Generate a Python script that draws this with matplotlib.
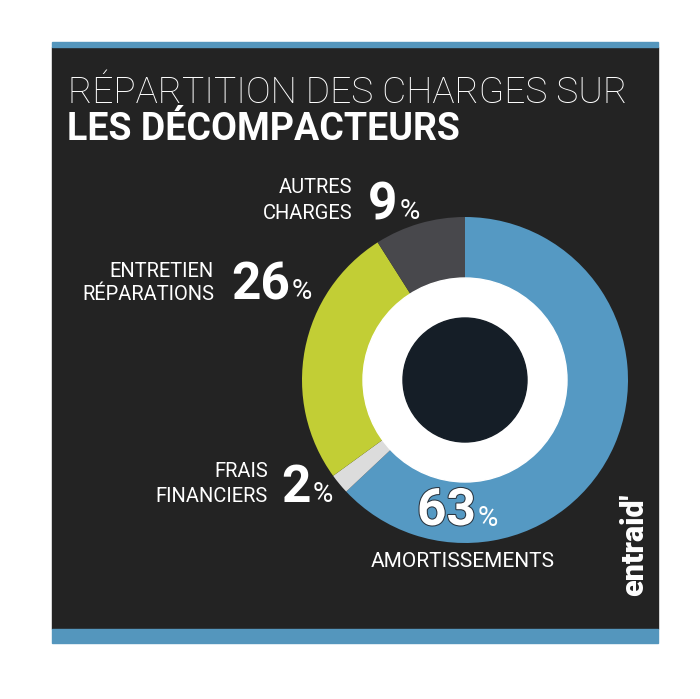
import matplotlib
matplotlib.use("Agg")
import matplotlib.pyplot as plt
from matplotlib.patches import Rectangle, Circle
from matplotlib import patheffects

# data
categories = ["AMORTISSEMENTS", "FRAIS FINANCIERS", "ENTRETIEN RÉPARATIONS", "AUTRES CHARGES"]
shares = [63, 2, 26, 9]
colors = ["#5599c3", "#dcdcdc", "#c2ce35", "#48484c"]
title_1 = "RÉPARTITION DES CHARGES SUR"
title_2 = "LES DÉCOMPACTEURS"

W, H = 700, 699
fig = plt.figure(figsize=(7, 6.99), dpi=100)
fig.patch.set_facecolor("white")
ax = fig.add_axes([0, 0, 1, 1])


def Y(y):
    # image row -> axes y
    return H - y


# panel + blue stripes
ax.add_patch(Rectangle((52, Y(629)), 606, 629 - 47, color="#232323", zorder=0))
ax.add_patch(Rectangle((52, Y(47)), 606, 5, color="#5496bd", zorder=1))
ax.add_patch(Rectangle((52, Y(643)), 606, 14, color="#5496bd", zorder=1))

# donut
cx, cy = 465, Y(380)
ax.pie(shares, colors=colors, startangle=90, counterclock=False,
       center=(cx, cy), radius=163, wedgeprops=dict(width=75, linewidth=0))
ax.add_patch(Circle((cx, cy), 102, color="white", zorder=5))
ax.add_patch(Circle((cx, cy), 62, color="#151e27", zorder=6))

ax.set_xlim(0, W)
ax.set_ylim(0, H)
ax.set_aspect("auto")
ax.axis("off")

# title
ax.text(68, Y(103), title_1, color="white", fontsize=26.7, family="Roboto",
        weight="light", ha="left", va="baseline")
ax.text(67, Y(140), title_2, color="white", fontsize=27, family="Roboto",
        weight="bold", ha="left", va="baseline")

lab = dict(color="white", fontsize=14.5, family="Roboto", ha="right", va="baseline")
big = dict(color="white", fontsize=37, family="Roboto", weight="bold", ha="left", va="baseline")
pct = dict(color="white", fontsize=20, family="Roboto", ha="left", va="baseline")

labels = [
    # lines, label right edge, line baselines, number x, number baseline
    (["AUTRES", "CHARGES"], 352, (193, 219), 368, 219, shares[3]),
    (["ENTRETIEN", "RÉPARATIONS"], 214, (277, 300), 231, 299, shares[2]),
    (["FRAIS", "FINANCIERS"], 268, (477, 502), 281, 502, shares[1]),
]
nums = []
for lines, xr, ys, xn, yn, v in labels:
    for s, yy in zip(lines, ys):
        ax.text(xr, Y(yy), s, **lab)
    nums.append((ax.text(xn, Y(yn), f"{v}", **big), yn))

t63 = ax.text(417, Y(525), f"{shares[0]}", **big)
t63.set_path_effects([patheffects.withStroke(linewidth=1.5, foreground="#2a3540")])
nums.append((t63, 526))
ax.text(463, Y(567), "AMORTISSEMENTS", color="white", fontsize=15, family="Roboto",
        ha="center", va="baseline")

# % signs right after each number
fig.canvas.draw()
r = fig.canvas.get_renderer()
for t, yn in nums:
    x1 = t.get_window_extent(r).x1
    ax.text(x1 + 2, Y(yn), "%", **pct)

# logo
ax.text(634, Y(545), "entraid'", color="white", fontsize=22, family="Roboto",
        weight="black", rotation=90, ha="center", va="center")

fig.savefig("out.png", dpi=100, facecolor="white")
